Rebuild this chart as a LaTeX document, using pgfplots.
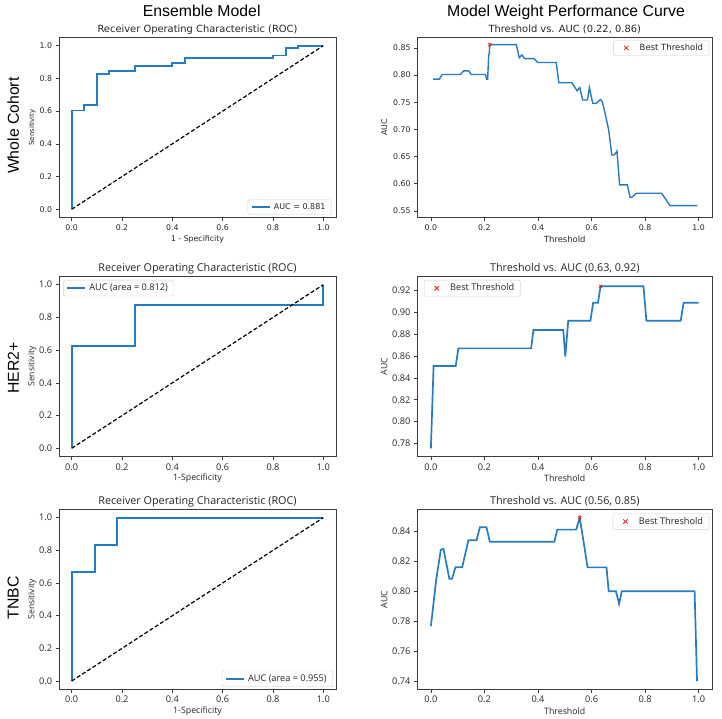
\documentclass[border=0pt]{standalone}
\usepackage{fontspec}
\setmainfont{DejaVu Sans}
\newfontfamily\dvfont{DejaVu Sans}
\newfontfamily\osfont{Open Sans}
\newfontfamily\arfont{Liberation Sans}
\usepackage{pgfplots}
\pgfplotsset{compat=1.18}

\definecolor{mplblue}{RGB}{38,124,194}
\definecolor{framegray}{RGB}{60,60,60}
\definecolor{bestred}{RGB}{235,30,30}

\newcommand{\fs}[1]{\fontsize{#1}{#1}\selectfont}
% reserve a fixed-width slot for a legend sample without stroking anything
\newcommand{\legendslot}{%
  \pgfpathrectangle{\pgfpoint{0pt}{-1pt}}{\pgfpoint{20pt}{2pt}}%
  \pgfusepath{use as bounding box}}

\pgfplotsset{
  panel/.style={
    scale only axis,
    anchor=south west,
    /pgf/number format/assume math mode=true,
    axis line style={draw=framegray, line width=0.7pt},
    tick align=outside,
    major tick length=3.5pt,
    tick style={framegray, line width=0.6pt},
    xtick pos=left, ytick pos=left,
    xmin=-0.05, xmax=1.05,
    xtick={0,0.2,0.4,0.6,0.8,1.0},
    xticklabel style={/pgf/number format/.cd, fixed, fixed zerofill, precision=1},
    every axis title/.style={at={(0.5,1)}, anchor=center, yshift=8.2pt},
    every axis x label/.style={at={(axis description cs:0.5,0)}, anchor=center, yshift=-21.8pt},
    every axis y label/.style={at={(axis description cs:0,0.5)}, anchor=center, rotate=90},
    legend cell align=left,
    legend style={draw=black!18, rounded corners=2pt, fill=white, inner xsep=4pt, inner ysep=1.8pt, row sep=0pt},
  },
  rocpanel/.style={
    panel,
    ymin=-0.05, ymax=1.05,
    ytick={0,0.2,0.4,0.6,0.8,1.0},
    yticklabel style={/pgf/number format/.cd, fixed, fixed zerofill, precision=1},
    legend image code/.code={%
      \legendslot
      \draw[mplblue, line width=1.6pt] (0pt,0pt) -- (18pt,0pt);},
  },
  aucpanel/.style={
    panel,
    yticklabel style={/pgf/number format/.cd, fixed, fixed zerofill, precision=2},
    legend image code/.code={%
      \legendslot
      \draw[bestred, line width=0.8pt] (6.3pt,-2.2pt) -- (10.7pt,2.2pt)
        (6.3pt,2.2pt) -- (10.7pt,-2.2pt);},
  },
  toprow/.style={
    tick label style={font=\dvfont\fs{7.8}, text=black!85},
    title style={font=\dvfont\fs{9.9}, text=black!85},
    xlabel style={font=\dvfont\fs{7.8}, text=black!85},
    legend style={font=\dvfont\fs{8}, text=black!85},
  },
  lowrow/.style={
    tick label style={font=\osfont\fs{9.2}, text=black!85},
    title style={font=\osfont\fs{10.8}, text=black!85},
    xlabel style={font=\osfont\fs{8.8}, text=black!85},
    legend style={font=\osfont\fs{9.2}, text=black!85},
  },
  curve/.style={mplblue, line width=1.9pt},
  diag/.style={black, line width=1.2pt, dash pattern=on 4pt off 2.2pt},
  best/.style={only marks, mark=x, mark size=2.2pt, bestred, mark options={line width=0.8pt}},
}

\begin{document}
\begin{tikzpicture}
\path[use as bounding box] (0,0) rectangle (722pt,719pt);

% column and row headings
\node[font=\arfont\fs{15.8}, anchor=base] at (201.7pt,702.3pt) {Ensemble Model};
\node[font=\arfont\fs{15.8}, anchor=base] at (566pt,702.3pt) {Model Weight Performance Curve};
\node[font=\arfont\fs{15.8}, rotate=90, anchor=center] at (13.3pt,593.3pt) {Whole Cohort};
\node[font=\arfont\fs{15.8}, rotate=90, anchor=center] at (13.3pt,351pt) {HER2+};
\node[font=\arfont\fs{15.8}, rotate=90, anchor=center] at (13.3pt,121pt) {TNBC};

% ---------- Whole cohort: ROC ----------
\begin{axis}[rocpanel, toprow,
  at={(59.1pt,501.5pt)}, width=276.8pt, height=180pt,
  title={Receiver Operating Characteristic (ROC)},
  xlabel={1 - Specificity},
  ylabel={Sensitivity},
  ylabel style={font=\dvfont\fs{7}, text=black!85, yshift=26.8pt},
  legend style={at={(axis description cs:1,0)}, anchor=south east, xshift=-4.2pt, yshift=2.5pt},
]
\addplot[curve] coordinates {
 (0,0) (0,0.604) (0.05,0.604) (0.05,0.638) (0.10,0.638) (0.10,0.826)
 (0.15,0.826) (0.15,0.843) (0.25,0.843) (0.25,0.877) (0.40,0.877)
 (0.40,0.894) (0.45,0.894) (0.45,0.923) (0.80,0.923) (0.80,0.940)
 (0.85,0.940) (0.85,0.987) (0.90,0.987) (0.90,1.0) (1.0,1.0)};
\addlegendentry{AUC = 0.881}
\addplot[diag, forget plot] coordinates {(0,0) (1,1)};
\end{axis}

% ---------- Whole cohort: threshold sweep ----------
\begin{axis}[aucpanel, toprow,
  at={(417.5pt,501.5pt)}, width=294.5pt, height=180pt,
  ymin=0.538, ymax=0.869,
  ytick={0.55,0.60,0.65,0.70,0.75,0.80,0.85},
  title={Threshold vs. AUC (0.22, 0.86)},
  xlabel={Threshold},
  xlabel style={font=\dvfont\fs{8.4}},
  ylabel={AUC},
  ylabel style={font=\dvfont\fs{7.9}, text=black!85, yshift=33.2pt},
  legend style={at={(axis description cs:1,1)}, anchor=north east, xshift=-2.7pt, yshift=-2.5pt, font=\dvfont\fs{8.5}},
]
\addplot[curve, line width=1.4pt, forget plot] coordinates {
 (0.008,0.7925) (0.032,0.7925) (0.042,0.801) (0.110,0.801) (0.123,0.8077)
 (0.141,0.8077) (0.151,0.801) (0.204,0.801) (0.208,0.7925) (0.212,0.7925)
 (0.216,0.838) (0.218,0.839) (0.220,0.856) (0.319,0.856) (0.330,0.832)
 (0.340,0.837) (0.350,0.830) (0.386,0.830) (0.399,0.823) (0.468,0.823)
 (0.478,0.7857) (0.527,0.7857) (0.546,0.771) (0.556,0.777) (0.567,0.754)
 (0.585,0.754) (0.592,0.777) (0.6045,0.748) (0.618,0.748) (0.633,0.755)
 (0.640,0.751) (0.651,0.729) (0.664,0.699) (0.676,0.653) (0.685,0.653)
 (0.695,0.660) (0.705,0.598) (0.734,0.598) (0.744,0.575) (0.750,0.575)
 (0.767,0.5825) (0.862,0.5825) (0.893,0.5598) (0.995,0.5598)};
\addplot[best] coordinates {(0.22,0.856)};
\addlegendentry{Best Threshold}
\end{axis}

% ---------- HER2+: ROC ----------
\begin{axis}[rocpanel, lowrow,
  at={(59.1pt,262.5pt)}, width=276.8pt, height=180pt,
  title={Receiver Operating Characteristic (ROC)},
  xlabel={1-Specificity},
  ylabel={Sensitivity},
  ylabel style={font=\osfont\fs{8.6}, text=black!85, yshift=26.8pt},
  legend style={at={(axis description cs:0,1)}, anchor=north west, xshift=4pt, yshift=-3.5pt},
]
\addplot[curve] coordinates {
 (0,0) (0,0.625) (0.25,0.625) (0.25,0.875) (1.0,0.875) (1.0,1.0)};
\addlegendentry{AUC (area = 0.812)}
\addplot[diag, forget plot] coordinates {(0,0) (1,1)};
\end{axis}

% ---------- HER2+: threshold sweep ----------
\begin{axis}[aucpanel, lowrow,
  at={(417.5pt,262.5pt)}, width=294.5pt, height=180pt,
  ymin=0.768, ymax=0.933,
  ytick={0.78,0.80,0.82,0.84,0.86,0.88,0.90,0.92},
  title={Threshold vs. AUC (0.63, 0.92)},
  xlabel={Threshold},
  ylabel={AUC},
  ylabel style={font=\osfont\fs{8.8}, text=black!85, yshift=33.2pt},
  legend style={at={(axis description cs:0,1)}, anchor=north west, xshift=6.5pt, yshift=-3.5pt},
]
\addplot[curve, line width=1.7pt, forget plot] coordinates {
 (0,0.7754) (0.010,0.8509) (0.0927,0.8509) (0.1026,0.8671) (0.3745,0.8671)
 (0.383,0.884) (0.4944,0.884) (0.502,0.8595) (0.513,0.8925) (0.596,0.8925)
 (0.606,0.909) (0.624,0.909) (0.634,0.924) (0.794,0.924) (0.805,0.8925)
 (0.933,0.8925) (0.944,0.909) (1.0,0.909)};
\addplot[best] coordinates {(0.634,0.924)};
\addlegendentry{Best Threshold}
\end{axis}

% ---------- TNBC: ROC ----------
\begin{axis}[rocpanel, lowrow,
  at={(59.1pt,29.8pt)}, width=276.8pt, height=179.7pt,
  title={Receiver Operating Characteristic (ROC)},
  xlabel={1-Specificity},
  ylabel={Sensitivity},
  ylabel style={font=\osfont\fs{8.6}, text=black!85, yshift=26.8pt},
  legend style={at={(axis description cs:1,0)}, anchor=south east, xshift=-3pt, yshift=2.2pt},
]
\addplot[curve] coordinates {
 (0,0) (0,0.6667) (0.0909,0.6667) (0.0909,0.8333) (0.1818,0.8333)
 (0.1818,1.0) (1.0,1.0)};
\addlegendentry{AUC (area = 0.955)}
\addplot[diag, forget plot] coordinates {(0,0) (1,1)};
\end{axis}

% ---------- TNBC: threshold sweep ----------
\begin{axis}[aucpanel, lowrow,
  at={(417.5pt,29.8pt)}, width=294.5pt, height=179.7pt,
  ymin=0.735, ymax=0.8545,
  ytick={0.74,0.76,0.78,0.80,0.82,0.84},
  title={Threshold vs. AUC (0.56, 0.85)},
  xlabel={Threshold},
  ylabel={AUC},
  ylabel style={font=\osfont\fs{8.8}, text=black!85, yshift=33.2pt},
  legend style={at={(axis description cs:1,1)}, anchor=north east, xshift=-2.7pt, yshift=-3.8pt},
]
\addplot[curve, line width=1.7pt, forget plot] coordinates {
 (0,0.7769) (0.020,0.808) (0.037,0.8278) (0.047,0.8283) (0.069,0.8084)
 (0.079,0.8084) (0.0915,0.8161) (0.117,0.8161) (0.140,0.834) (0.1705,0.834)
 (0.183,0.8427) (0.2077,0.8427) (0.220,0.833) (0.461,0.833) (0.472,0.8411)
 (0.5426,0.8411) (0.556,0.849) (0.573,0.830) (0.5853,0.816) (0.656,0.816)
 (0.664,0.8002) (0.691,0.8002) (0.703,0.7918) (0.713,0.8002) (0.985,0.8002)
 (0.994,0.7404)};
\addplot[best] coordinates {(0.556,0.849)};
\addlegendentry{Best Threshold}
\end{axis}
\end{tikzpicture}
\end{document}
